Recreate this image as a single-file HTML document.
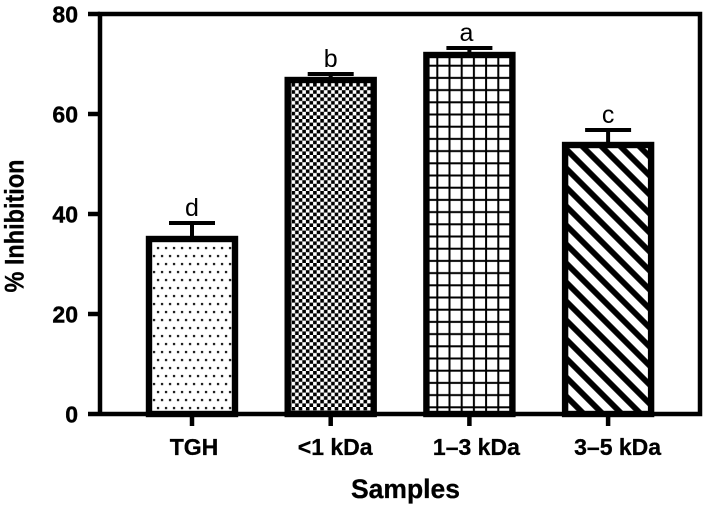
<!DOCTYPE html>
<html><head><meta charset="utf-8"><style>
html,body{margin:0;padding:0;background:#fff;width:709px;height:510px;overflow:hidden}
svg{display:block}
text{font-family:"Liberation Sans",sans-serif;fill:#000}
</style></head><body>
<svg id="chart" xmlns="http://www.w3.org/2000/svg" width="709" height="510" viewBox="0 0 709 510">
<defs>
<pattern id="p-dots" patternUnits="userSpaceOnUse" width="8" height="16"><rect x="4.9" y="6.9" width="2.3" height="2.3" fill="#222"/><rect x="0.9" y="14.9" width="2.3" height="2.3" fill="#222"/><rect x="0.9" y="-1.1" width="2.3" height="2.3" fill="#222"/></pattern>
<pattern id="p-check" patternUnits="userSpaceOnUse" x="291.5" y="83" width="7.2" height="7.2"><rect width="3.6" height="3.6" fill="#000"/><rect x="3.6" y="3.6" width="3.6" height="3.6" fill="#000"/></pattern>
<pattern id="p-grid" patternUnits="userSpaceOnUse" width="12.2" height="12.2"><rect x="9.3" width="2" height="12.2" fill="#000"/><rect y="3.7" width="12.2" height="2" fill="#000"/></pattern>
<pattern id="p-diag" patternUnits="userSpaceOnUse" width="13.44" height="13.44" patternTransform="translate(583 147) rotate(45)"><rect x="-0.1" y="-2.9" width="13.64" height="5.8" fill="#000"/><rect x="-0.1" y="10.54" width="13.64" height="5.8" fill="#000"/></pattern>
</defs>
</svg>
<script>
const categories = ['TGH', '<1 kDa', '1–3 kDa', '3–5 kDa'];
const values = [35, 66.8, 71.8, 53.8];
const errors = [3.2, 1.2, 1.4, 3];
const letters = ['d', 'b', 'a', 'c'];
const yTicks = [0, 20, 40, 60, 80];
const fills = ['p-dots', 'p-check', 'p-grid', 'p-diag'];

const svg = document.getElementById('chart');
const NS = 'http://www.w3.org/2000/svg';
const y = v => 414 - v * 5;
const x = i => 192 + i * 138.7;
function make(tag, attrs, txt) {
  const el = document.createElementNS(NS, tag);
  for (const k in attrs) el.setAttribute(k, attrs[k]);
  if (txt !== undefined) el.textContent = txt;
  svg.appendChild(el);
  return el;
}
categories.forEach((c, i) => {
  const bar = make('rect', {x: x(i) - 43, y: y(values[i]), width: 86, height: 414 - y(values[i]), fill: '#fff'});
  
  
  const fillRect = make('rect', {x: x(i) - 43, y: y(values[i]), width: 86, height: 414 - y(values[i]), fill: 'url(#' + fills[i] + ')', stroke: '#000', 'stroke-width': 6.4});
  
  
  const top = y(values[i] + errors[i]);
  const stem = make('line', {x1: x(i), x2: x(i), y1: y(values[i]), y2: top, stroke: '#000', 'stroke-width': 4});
  
  
  const cap = make('line', {x1: x(i) - 23, x2: x(i) + 23, y1: top, y2: top, stroke: '#000', 'stroke-width': 4});
  
  
  const sig = make('text', {x: x(i) - (i === 2 ? 3 : 0), y: top - 7, 'text-anchor': 'middle', 'font-size': 25}, letters[i]);
  
  
  const tick = make('line', {x1: x(i), x2: x(i), y1: 414, y2: 426, stroke: '#000', 'stroke-width': 4.5});
  
  
  const lab = make('text', {x: x(i) + 2 + i * 2.5, y: 455, 'text-anchor': 'middle', 'font-size': 23, 'font-weight': 'bold', stroke: '#000', 'stroke-width': 0.3}, c);
  
  
});
yTicks.forEach(t => {
  const tick = make('line', {x1: 88, x2: 100, y1: y(t), y2: y(t), stroke: '#000', 'stroke-width': 4.5});
  
  
  const lab = make('text', {x: 78, y: y(t) + 8.5, 'text-anchor': 'end', 'font-size': 23, 'font-weight': 'bold', stroke: '#000', 'stroke-width': 0.4}, t);
  
  
});
const frame = make('path', {d: 'M100 414V14H700V414H100', fill: 'none', stroke: '#000', 'stroke-width': 4.5});


const xTitle = make('text', {x: 405.5, y: 498, 'text-anchor': 'middle', 'font-size': 26.5, 'font-weight': 'bold', stroke: '#000', 'stroke-width': 0.3}, 'Samples');


const yTitle = make('text', {x: 0, y: 0, transform: 'translate(23.5 226) rotate(-90) scale(0.87 1)', 'text-anchor': 'middle', 'font-size': 27, 'font-weight': 'bold', stroke: '#000', 'stroke-width': 0.3}, '% Inhibition');


</script>
</body></html>
